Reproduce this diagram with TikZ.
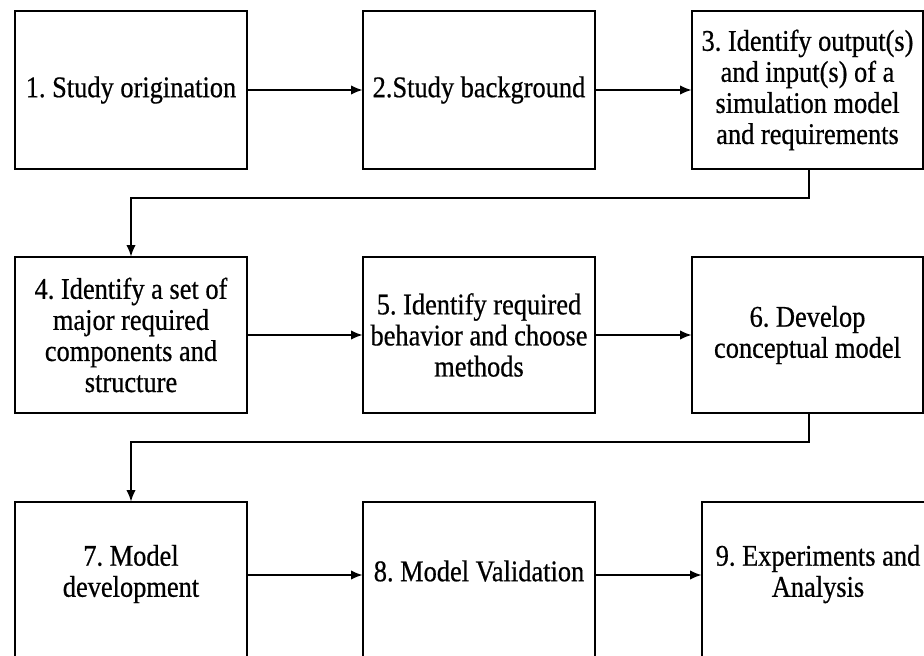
\documentclass[tikz,border=0pt]{standalone}
\usepackage{fontspec}
\setmainfont{Liberation Serif}[FakeStretch=0.88, FakeBold=0.6]
\usetikzlibrary{arrows.meta}

% Content lifted slightly above the centre of a taller box
\newcommand{\liftedtext}[1]{\raisebox{0pt}[\height][\dimexpr\depth+9pt\relax]{\begin{tabular}{@{}c@{}}#1\end{tabular}}}

\tikzset{
  stepbox/.style={draw=black, line width=0.9pt, align=center, inner sep=0pt,
    minimum width=174pt, minimum height=118.5pt,
    font=\fontsize{22.5pt}{23.3pt}\selectfont\frenchspacing},
  flow/.style={draw=black, line width=0.9pt, -{Latex[length=8.5pt,width=7pt]}},
}

\begin{document}
\begin{tikzpicture}[x=0.75pt, y=-0.75pt]
  \useasboundingbox (0,0) rectangle (924,656);

  % first row
  \node[stepbox] (s1) at (131,90) {1. Study origination};
  \node[stepbox] (s2) at (479,90) {2.Study background};
  \node[stepbox, minimum width=173.25pt] (s3) at (807.5,90)
    {3. Identify output(s)\\and input(s) of a\\simulation model\\and requirements};

  % second row
  \node[stepbox, minimum height=117pt] (s4) at (131,335)
    {4. Identify a set of\\major required\\components and\\structure};
  \node[stepbox, minimum height=117pt] (s5) at (479,335)
    {5. Identify required\\behavior and choose\\methods};
  \node[stepbox, minimum width=173.25pt, minimum height=117pt] (s6) at (807.5,335)
    {6. Develop\\conceptual model};

  % third row (runs past the lower edge)
  \node[stepbox] (s7) at (131,581) {\liftedtext{7. Model\\development}};
  \node[stepbox] (s8) at (479,581) {\liftedtext{8. Model Validation}};
  \node[stepbox] (s9) at (818,581) {\liftedtext{9. Experiments and\\Analysis}};

  % turning points of the row-to-row connectors
  \coordinate (t1) at (809,198);
  \coordinate (t2) at (809,442);

  % connectors within the rows
  \draw[flow] (s1) -- (s2);
  \draw[flow] (s2) -- (s3);
  \draw[flow] (s4) -- (s5);
  \draw[flow] (s5) -- (s6);
  \draw[flow] ([yshift=4.5pt]s7.east) -- ([yshift=4.5pt]s8.west);
  \draw[flow] ([yshift=4.5pt]s8.east) -- ([yshift=4.5pt]s9.west);

  % connectors between the rows
  \draw[flow] (s3.south -| t1) -- (t1) -| (s4.north);
  \draw[flow] (s6.south -| t2) -- (t2) -| (s7.north);
\end{tikzpicture}
\end{document}
